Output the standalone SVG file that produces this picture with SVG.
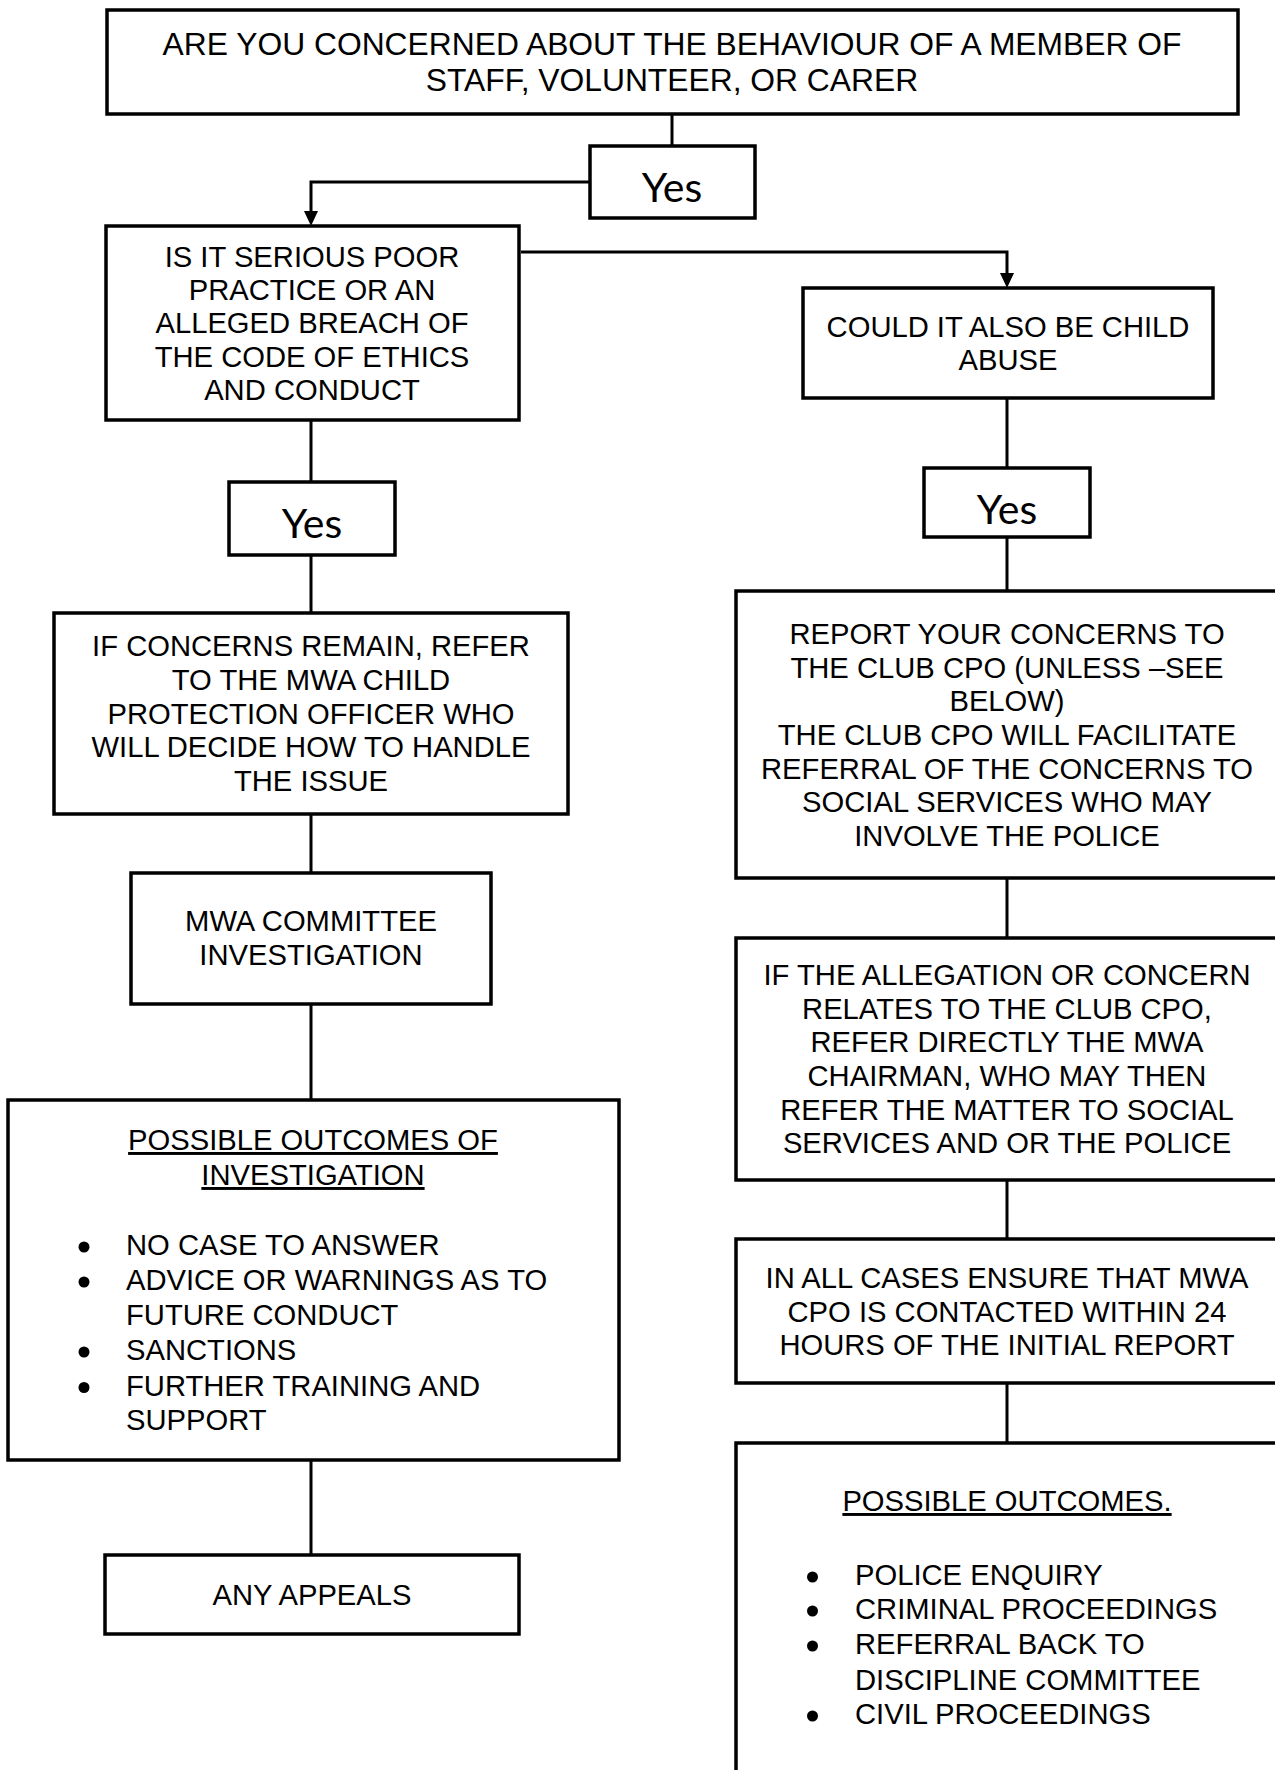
<svg xmlns="http://www.w3.org/2000/svg" width="1275" height="1770" viewBox="0 0 1275 1770">
<style>
.box{fill:#fff;stroke:#000;stroke-width:3.5}
.t{font-family:"Liberation Sans",Arial,sans-serif;font-size:29.2px;fill:#000}
.c{text-anchor:middle}
.big{font-size:31.8px}
.yes{font-family:Lato,"Open Sans",sans-serif;font-size:41px;fill:#000;text-anchor:middle}
.u{text-decoration:underline}
.conn{fill:none;stroke:#000;stroke-width:3}
</style>
<rect width="1275" height="1770" fill="#fff"/>
<g id="connectors">
<line class="conn" x1="672" y1="114" x2="672" y2="146"/>
<path class="conn" d="M590 182 H311 V212"/>
<polygon points="304,211 318,211 311,226" fill="#000"/>
<path class="conn" d="M521 252 H1007 V274"/>
<polygon points="1000,273 1014,273 1007,288" fill="#000"/>
<line class="conn" x1="311" y1="420" x2="311" y2="482"/>
<line class="conn" x1="311" y1="555" x2="311" y2="613"/>
<line class="conn" x1="311" y1="814" x2="311" y2="873"/>
<line class="conn" x1="311" y1="1004" x2="311" y2="1100"/>
<line class="conn" x1="311" y1="1460" x2="311" y2="1555"/>
<line class="conn" x1="1007" y1="398" x2="1007" y2="468"/>
<line class="conn" x1="1007" y1="537" x2="1007" y2="591"/>
<line class="conn" x1="1007" y1="878" x2="1007" y2="938"/>
<line class="conn" x1="1007" y1="1180" x2="1007" y2="1239"/>
<line class="conn" x1="1007" y1="1383" x2="1007" y2="1443"/>
</g>
<g id="n-top">
<rect class="box" x="107" y="10" width="1131" height="104"/>
<text class="t big c" x="672" y="55">ARE YOU CONCERNED ABOUT THE BEHAVIOUR OF A MEMBER OF</text>
<text class="t big c" x="672" y="91">STAFF, VOLUNTEER, OR CARER</text>
</g>
<g id="n-yes1">
<rect class="box" x="590" y="146" width="165" height="72"/>
<text class="yes" x="672" y="202">Yes</text>
</g>
<g id="n-serious">
<rect class="box" x="106" y="226" width="413" height="194"/>
<text class="t c" x="312" y="267">IS IT SERIOUS POOR</text>
<text class="t c" x="312" y="300">PRACTICE OR AN</text>
<text class="t c" x="312" y="333">ALLEGED BREACH OF</text>
<text class="t c" x="312" y="367">THE CODE OF ETHICS</text>
<text class="t c" x="312" y="400">AND CONDUCT</text>
</g>
<g id="n-abuse">
<rect class="box" x="803" y="288" width="410" height="110"/>
<text class="t c" x="1008" y="337">COULD IT ALSO BE CHILD</text>
<text class="t c" x="1008" y="370">ABUSE</text>
</g>
<g id="n-yes2">
<rect class="box" x="229" y="482" width="166" height="73"/>
<text class="yes" x="312" y="538">Yes</text>
</g>
<g id="n-yes3">
<rect class="box" x="924" y="468" width="166" height="69"/>
<text class="yes" x="1007" y="524">Yes</text>
</g>
<g id="n-refer">
<rect class="box" x="54" y="613" width="514" height="201"/>
<text class="t c" x="311" y="656">IF CONCERNS REMAIN, REFER</text>
<text class="t c" x="311" y="690">TO THE MWA CHILD</text>
<text class="t c" x="311" y="723.5">PROTECTION OFFICER WHO</text>
<text class="t c" x="311" y="757">WILL DECIDE HOW TO HANDLE</text>
<text class="t c" x="311" y="791">THE ISSUE</text>
</g>
<g id="n-report">
<rect class="box" x="736" y="591" width="545" height="287"/>
<text class="t c" x="1007" y="644">REPORT YOUR CONCERNS TO</text>
<text class="t c" x="1007" y="677.5">THE CLUB CPO (UNLESS –SEE</text>
<text class="t c" x="1007" y="711">BELOW)</text>
<text class="t c" x="1007" y="744.5">THE CLUB CPO WILL FACILITATE</text>
<text class="t c" x="1007" y="778.5">REFERRAL OF THE CONCERNS TO</text>
<text class="t c" x="1007" y="812">SOCIAL SERVICES WHO MAY</text>
<text class="t c" x="1007" y="846">INVOLVE THE POLICE</text>
</g>
<g id="n-committee">
<rect class="box" x="131" y="873" width="360" height="131"/>
<text class="t c" x="311" y="931">MWA COMMITTEE</text>
<text class="t c" x="311" y="965">INVESTIGATION</text>
</g>
<g id="n-allegation">
<rect class="box" x="736" y="938" width="545" height="242"/>
<text class="t c" x="1007" y="985">IF THE ALLEGATION OR CONCERN</text>
<text class="t c" x="1007" y="1018.5">RELATES TO THE CLUB CPO,</text>
<text class="t c" x="1007" y="1052">REFER DIRECTLY THE MWA</text>
<text class="t c" x="1007" y="1086">CHAIRMAN, WHO MAY THEN</text>
<text class="t c" x="1007" y="1120">REFER THE MATTER TO SOCIAL</text>
<text class="t c" x="1007" y="1153">SERVICES AND OR THE POLICE</text>
</g>
<g id="n-outcomes-left">
<rect class="box" x="8" y="1100" width="611" height="360"/>
<text class="t c u" x="313" y="1150">POSSIBLE OUTCOMES OF</text>
<text class="t c u" x="313" y="1185">INVESTIGATION</text>
<circle cx="84" cy="1247" r="5.5"/>
<text class="t" x="126" y="1255">NO CASE TO ANSWER</text>
<circle cx="84" cy="1282" r="5.5"/>
<text class="t" x="126" y="1290">ADVICE OR WARNINGS AS TO</text>
<text class="t" x="126" y="1324.5">FUTURE CONDUCT</text>
<circle cx="84" cy="1352" r="5.5"/>
<text class="t" x="126" y="1360">SANCTIONS</text>
<circle cx="84" cy="1387.5" r="5.5"/>
<text class="t" x="126" y="1395.5">FURTHER TRAINING AND</text>
<text class="t" x="126" y="1430">SUPPORT</text>
</g>
<g id="n-allcases">
<rect class="box" x="736" y="1239" width="545" height="144"/>
<text class="t c" x="1007" y="1288">IN ALL CASES ENSURE THAT MWA</text>
<text class="t c" x="1007" y="1321.5">CPO IS CONTACTED WITHIN 24</text>
<text class="t c" x="1007" y="1355">HOURS OF THE INITIAL REPORT</text>
</g>
<g id="n-appeals">
<rect class="box" x="105" y="1555" width="414" height="79"/>
<text class="t c" x="312" y="1604.5">ANY APPEALS</text>
</g>
<g id="n-outcomes-right">
<rect class="box" x="736" y="1443" width="545" height="340"/>
<text class="t c u" x="1007" y="1511">POSSIBLE OUTCOMES.</text>
<circle cx="812.5" cy="1577" r="5.5"/>
<text class="t" x="855" y="1585">POLICE ENQUIRY</text>
<circle cx="812.5" cy="1611" r="5.5"/>
<text class="t" x="855" y="1619">CRIMINAL PROCEEDINGS</text>
<circle cx="812.5" cy="1646" r="5.5"/>
<text class="t" x="855" y="1654">REFERRAL BACK TO</text>
<text class="t" x="855" y="1689.5">DISCIPLINE COMMITTEE</text>
<circle cx="812.5" cy="1716" r="5.5"/>
<text class="t" x="855" y="1724">CIVIL PROCEEDINGS</text>
</g>
</svg>
